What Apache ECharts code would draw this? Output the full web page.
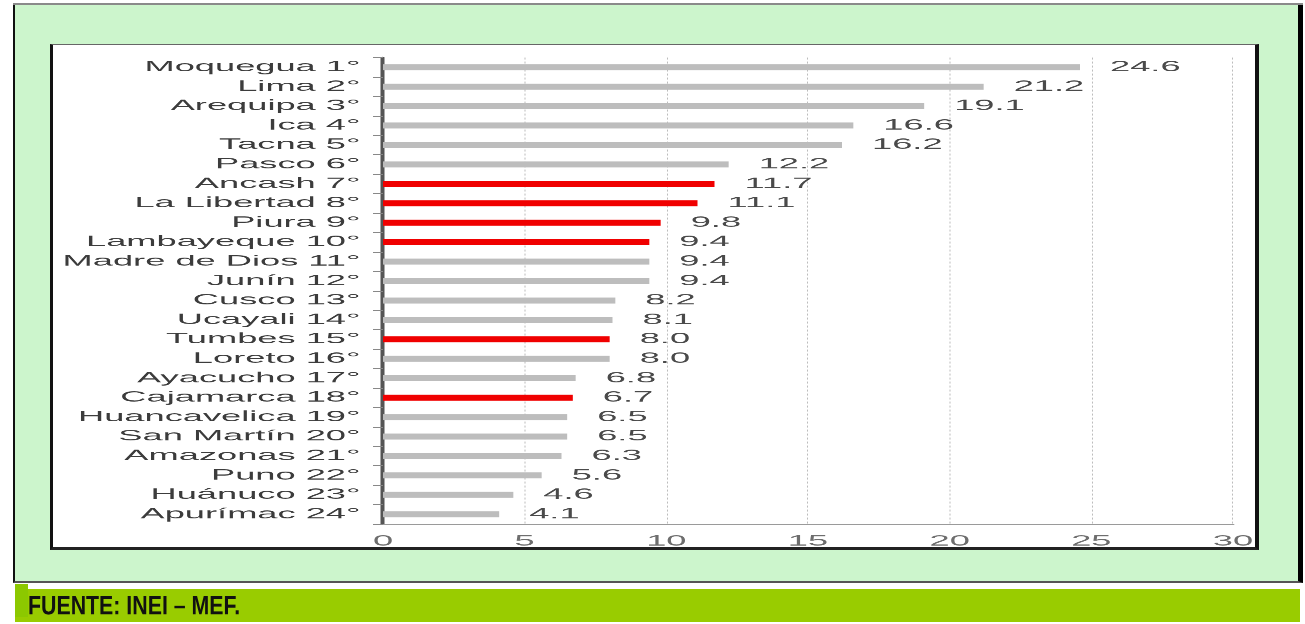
<!DOCTYPE html>
<html>
<head>
<meta charset="utf-8">
<script src="https://cdn.jsdelivr.net/npm/echarts@6/dist/echarts.min.js"></script>
<style>
  html, body { margin: 0; padding: 0; background: #ffffff; width: 1305px; height: 624px; overflow: hidden; position: relative; }
  .abs { position: absolute; box-sizing: border-box; }
  #chart { position: absolute; left: 0; top: 0; width: 522px; height: 624px; transform: scaleX(2.5); transform-origin: 0 0; }
</style>
</head>
<body>
<div class="abs" style="left:13px;top:3px;width:1290px;height:3px;background:#8a8a8a;"></div>
<div class="abs" style="left:13px;top:5px;width:1290px;height:578px;background:#ccf5cc;border-left:2px solid #111;border-right:5px solid #000;border-bottom:2px solid #555;"></div>
<div class="abs" style="left:50px;top:44px;width:1209px;height:506px;background:#ffffff;border-left:3px solid #111;border-right:4px solid #111;border-bottom:3px solid #222;border-top:1px solid #666;"></div>
<div class="abs" style="left:15px;top:589px;width:1285px;height:33px;background:#99cc00;"></div>
<div class="abs" style="left:15px;top:584px;width:13px;height:33px;background:#8cc800;"></div>
<div id="chart"></div>
<script>
// ---- data ----
const categories = ['Moquegua 1°', 'Lima 2°', 'Arequipa 3°', 'Ica 4°', 'Tacna 5°', 'Pasco 6°',
  'Ancash 7°', 'La Libertad 8°', 'Piura 9°', 'Lambayeque 10°', 'Madre de Dios 11°', 'Junín 12°',
  'Cusco 13°', 'Ucayali 14°', 'Tumbes 15°', 'Loreto 16°', 'Ayacucho 17°', 'Cajamarca 18°',
  'Huancavelica 19°', 'San Martín 20°', 'Amazonas 21°', 'Puno 22°', 'Huánuco 23°', 'Apurímac 24°'];
const values = [24.6, 21.2, 19.1, 16.6, 16.2, 12.2, 11.7, 11.1, 9.8, 9.4, 9.4, 9.4,
  8.2, 8.1, 8.0, 8.0, 6.8, 6.7, 6.5, 6.5, 6.3, 5.6, 4.6, 4.1];
const highlighted = ['Ancash 7°', 'La Libertad 8°', 'Piura 9°', 'Lambayeque 10°', 'Tumbes 15°', 'Cajamarca 18°'];
const xTicks = [0, 5, 10, 15, 20, 25, 30];
const sourceText = 'FUENTE: INEI – MEF.';

// ---- chart (drawn in a canvas stretched 2.5x horizontally, like the reference) ----
const S = 2.5;
const chart = echarts.init(document.getElementById('chart'), null, { devicePixelRatio: S, renderer: 'canvas' });

const seriesData = values.map((v, i) => ({
  value: v,
  itemStyle: { color: highlighted.indexOf(categories[i]) >= 0 ? '#f00000' : '#bdbdbd' }
}));

const option = {
  animation: false,
  backgroundColor: 'transparent',
  textStyle: { fontFamily: 'Liberation Sans' },
  grid: { left: 383 / S, right: (1305 - 1233) / S, top: 57.5, bottom: 624 - 524, containLabel: false },
  xAxis: {
    type: 'value',
    min: xTicks[0],
    max: xTicks[xTicks.length - 1],
    interval: xTicks[1] - xTicks[0],
    axisLine: { show: true, lineStyle: { color: '#9a9a9a', width: 1 } },
    axisTick: { show: false },
    axisLabel: { color: '#6e6e6e', fontSize: 14.5, margin: 10, fontFamily: 'Liberation Sans' },
    splitLine: { show: true, lineStyle: { color: '#bcbcbc', width: 0.4, type: [2, 2] } }
  },
  yAxis: {
    type: 'category',
    data: categories,
    inverse: true,
    axisLine: { show: true, lineStyle: { color: '#555555', width: 1.6 } },
    axisTick: { show: true, length: 4, interval: 0, lineStyle: { color: '#888888', width: 1 } },
    axisLabel: { interval: 0, color: '#3c3c3c', fontSize: 14.5, margin: 9, fontFamily: 'Liberation Sans' },
    splitLine: { show: false }
  },
  series: [{
    type: 'bar',
    data: seriesData,
    barWidth: 6,
    label: {
      show: true,
      position: 'right',
      distance: 12,
      color: '#4a4a4a',
      fontSize: 14.5,
      fontFamily: 'Liberation Sans',
      formatter: p => p.value.toFixed(1)
    }
  }],
  graphic: [{
    type: 'text',
    x: 28 / S,
    y: 607,
    scaleX: 0.79 / S,
    scaleY: 1,
    style: {
      text: sourceText,
      fill: '#111111',
      font: 'bold 27px "Liberation Sans"',
      textAlign: 'left',
      verticalAlign: 'middle'
    }
  }]
};
chart.setOption(option);
</script>
</body>
</html>
